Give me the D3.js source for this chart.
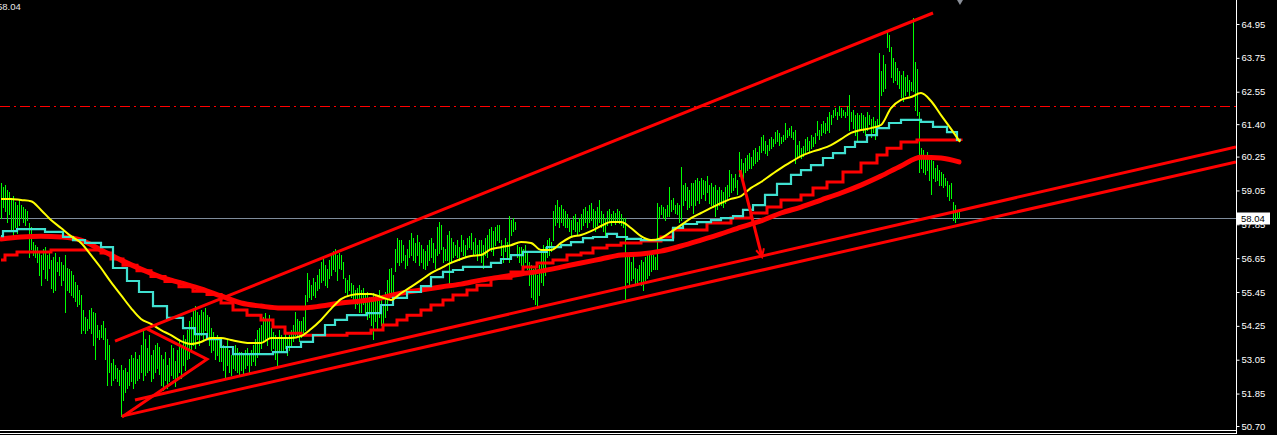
<!DOCTYPE html>
<html><head><meta charset="utf-8">
<script src="https://cdn.jsdelivr.net/npm/d3@7"></script>
<style>html,body{margin:0;padding:0;background:#000;overflow:hidden}</style>
</head><body>
<svg id="c" width="1277" height="435"></svg>
<script>
// ---------- DATA ----------
const tickLabels = ["64.95","63.75","62.55","61.40","60.25","59.05","57.85","56.65","55.45","54.25","53.05","51.85","50.70"];
const barHigh = [
59.31,59.14,59.24,59.06,58.99,58.78,58.85,58.64,58.53,58.71,
58.53,58.46,58.36,58.29,57.89,57.72,57.22,57.11,57.01,56.87,
56.76,56.94,57.01,56.73,56.87,56.58,56.66,56.83,56.51,56.66,
56.51,56.40,56.76,56.30,56.23,56.16,56.05,55.80,55.69,55.52,
55.34,54.81,54.53,54.46,54.81,54.88,54.74,54.70,54.28,54.10,
54.28,54.39,54.17,53.75,53.57,52.93,53.04,52.86,52.75,52.68,
52.86,52.68,52.75,52.61,53.04,53.21,53.11,53.32,53.04,53.21,
53.57,54.10,53.75,53.46,53.92,53.21,53.39,53.57,53.64,53.50,
53.21,53.04,53.32,52.86,53.11,53.57,53.46,52.97,53.39,53.75,
53.46,53.92,53.75,54.10,54.39,54.53,54.81,54.92,54.74,54.63,
54.81,54.74,54.88,54.63,54.53,54.17,54.03,53.82,53.92,53.75,
53.68,53.57,53.46,53.75,53.39,53.21,53.32,53.57,53.46,53.32,
53.32,53.21,53.39,53.46,53.28,53.39,53.57,53.75,54.10,54.17,
54.28,54.53,54.70,54.39,54.63,54.17,54.03,53.92,53.82,54.10,
53.92,53.82,54.03,53.75,53.92,54.10,54.28,54.74,54.46,54.39,
54.39,54.53,55.34,56.12,55.87,55.69,55.94,55.80,56.05,56.23,
56.51,56.66,56.40,56.23,56.58,56.76,56.87,56.94,56.76,56.83,
56.76,56.51,55.94,55.87,56.05,55.76,55.69,55.52,55.59,55.69,
55.52,55.59,55.34,55.45,55.24,55.17,55.41,55.34,55.17,55.52,
55.17,54.99,55.45,55.87,56.23,56.30,56.05,56.94,57.36,57.29,
57.29,57.11,56.76,56.94,57.29,57.54,57.36,57.18,57.47,57.22,
57.11,56.94,56.87,57.11,57.29,57.36,57.18,56.94,57.72,57.93,
57.82,57.01,56.94,57.47,57.58,57.36,57.22,57.11,57.29,57.01,
57.47,57.29,57.11,57.36,57.43,57.54,57.22,57.36,57.11,57.29,
57.29,57.11,57.36,57.47,57.65,57.72,57.58,57.72,57.82,57.79,
57.29,57.11,57.36,57.22,58.11,58.00,58.07,57.93,57.11,57.01,
57.01,56.94,57.11,56.87,56.51,56.40,56.23,56.30,56.05,56.40,
56.94,57.11,57.01,57.29,57.36,57.22,58.29,58.53,58.71,58.43,
58.53,58.36,58.29,58.18,58.07,58.00,58.11,58.18,57.93,58.07,
58.18,58.36,58.43,58.29,58.53,58.60,58.36,58.29,58.43,58.71,
58.29,58.18,58.07,58.29,58.36,58.18,58.29,58.22,58.36,58.29,
58.18,58.07,58.07,56.76,56.66,56.51,56.76,56.30,56.23,56.40,
56.58,56.51,56.66,56.76,56.73,56.83,56.76,56.66,58.60,58.46,
58.53,58.43,58.36,58.50,59.17,58.71,58.78,58.53,58.60,58.53,
59.88,59.24,59.31,59.14,59.06,59.28,59.31,59.42,59.49,59.35,
59.49,59.42,59.35,59.53,59.24,59.31,59.14,59.24,59.06,59.17,
59.06,58.99,59.14,59.24,59.77,59.60,59.49,59.63,59.42,60.41,
60.13,60.02,60.20,60.30,60.37,60.23,60.48,60.55,60.41,60.62,
60.94,61.01,60.77,60.66,60.84,60.91,60.84,61.12,61.19,61.08,
60.94,61.01,61.44,61.19,61.26,61.30,61.12,61.19,60.66,60.77,
60.55,60.62,60.84,60.91,60.77,61.01,60.91,61.08,61.48,61.19,
61.37,61.48,61.41,61.62,61.83,61.72,61.90,61.97,61.83,62.01,
61.97,61.90,61.83,62.01,62.43,61.83,61.90,61.72,61.79,61.69,
61.76,61.69,61.62,61.83,61.72,61.55,61.62,61.48,61.55,63.92,
63.25,63.85,63.50,64.67,64.56,64.10,63.74,63.60,63.39,63.25,
63.14,63.25,63.04,63.14,62.96,62.89,65.13,63.60,63.32,61.83,
60.55,60.48,60.30,60.41,60.20,60.13,60.06,59.84,59.95,59.77,
59.70,59.60,59.49,59.35,59.24,59.31,58.64,58.53,58.29,58.36];
const barLow = [
58.07,58.46,58.29,57.93,58.18,57.65,57.40,57.72,57.51,57.82,
58.07,57.93,57.82,58.00,56.69,56.94,56.76,56.66,56.51,56.05,
55.69,56.23,55.94,55.87,56.30,55.59,55.45,55.52,56.16,56.05,
55.69,55.87,54.74,55.52,55.45,55.34,55.24,55.10,54.92,54.99,
53.99,54.10,53.99,54.07,54.17,53.99,53.57,53.04,53.82,53.75,
53.82,53.75,53.04,52.15,52.61,52.15,52.33,52.40,52.26,52.15,
51.02,51.62,51.90,52.04,52.15,52.26,52.04,52.22,52.33,52.40,
52.61,52.33,52.50,52.61,52.68,52.26,52.40,52.61,52.75,52.54,
52.15,51.97,52.33,52.04,52.26,52.50,52.40,52.11,52.33,52.61,
52.40,52.86,52.68,53.04,53.11,53.32,53.57,53.46,53.75,53.57,
53.92,53.75,54.10,53.82,53.57,53.32,53.39,53.04,53.21,52.97,
52.97,52.68,52.40,52.86,52.61,52.50,52.75,52.68,52.61,52.47,
52.68,52.57,52.75,52.86,52.61,52.86,52.97,52.86,53.14,53.32,
53.46,53.68,53.75,53.57,53.82,53.39,53.46,53.04,52.86,53.39,
53.32,53.39,53.46,53.21,53.39,53.57,53.68,53.92,53.82,53.68,
53.82,54.03,54.10,55.10,55.24,55.17,55.34,55.27,55.52,55.59,
55.80,55.87,55.69,55.62,55.94,56.05,56.23,56.16,55.87,56.30,
56.23,55.94,55.45,55.34,55.52,55.24,55.06,54.88,54.99,54.74,
54.74,54.99,54.63,54.46,54.53,54.28,53.75,54.39,54.17,54.53,
54.28,54.10,54.53,54.81,55.17,55.45,55.24,56.16,56.51,56.40,
56.51,56.58,56.30,56.40,56.66,56.76,56.58,56.51,56.73,56.40,
56.51,56.30,56.23,56.40,56.58,56.66,56.51,56.30,56.76,56.83,
56.94,56.51,56.58,56.58,55.76,56.51,56.66,56.73,56.66,56.58,
56.87,56.76,56.66,56.94,57.01,56.94,56.73,56.80,56.58,56.76,
56.51,56.30,56.76,56.66,56.94,56.87,56.76,57.11,57.29,57.22,
56.73,56.51,56.87,56.66,56.51,57.47,57.58,57.65,56.66,56.51,
56.40,56.30,56.51,56.23,55.69,55.24,55.17,54.99,54.92,55.34,
55.80,55.69,56.05,56.66,56.76,56.87,57.29,57.82,57.93,57.72,
57.93,57.82,57.72,57.72,57.58,57.47,57.65,57.58,57.47,57.58,
57.65,57.82,57.93,57.72,57.93,58.00,57.72,57.58,57.82,57.93,
57.72,57.58,57.47,57.82,57.93,57.82,57.93,57.86,58.00,57.89,
57.82,57.72,55.10,55.80,55.69,55.87,55.94,55.76,55.69,55.87,
55.69,55.52,55.87,55.94,56.05,56.16,56.23,56.23,56.23,58.07,
58.18,58.07,58.00,58.14,58.11,58.29,58.36,58.25,58.18,57.93,
58.00,58.53,58.71,58.36,58.43,58.53,58.25,58.53,58.71,58.60,
58.78,58.89,58.71,58.96,58.60,58.53,58.46,58.11,58.36,58.53,
58.53,58.43,58.60,58.71,58.82,58.99,59.06,59.14,58.89,59.53,
59.60,59.49,59.70,59.77,59.84,59.84,59.95,60.02,60.06,60.13,
60.41,60.48,60.37,60.30,60.48,60.55,60.59,60.73,60.77,60.66,
60.73,60.77,60.84,60.91,61.01,60.94,60.84,60.02,60.20,60.30,
60.20,60.27,60.41,60.48,60.41,60.55,60.62,60.73,61.01,60.84,
61.01,61.12,61.08,61.19,61.12,61.37,61.62,61.69,61.55,61.72,
61.62,61.69,61.62,61.72,61.19,61.48,61.26,61.01,60.77,61.19,
61.26,61.12,61.01,61.19,61.37,60.91,61.12,60.84,61.26,61.30,
62.43,62.54,62.68,64.10,63.96,63.04,62.89,62.96,62.79,62.68,
62.33,62.19,62.43,62.54,62.43,62.61,62.54,61.90,61.72,59.70,
59.84,59.70,59.60,59.77,59.42,58.89,59.49,59.35,59.42,59.24,
59.24,59.14,59.21,58.85,58.71,58.78,58.00,57.93,58.07,58.07];
// fast MA, one value every 5 bars
const yellowMA = [58.75,58.75,58.71,58.67,58.36,58.00,57.72,57.43,57.19,56.76,
56.30,55.80,55.34,54.88,54.49,54.32,54.10,53.92,53.71,53.61,
53.68,53.82,53.82,53.75,53.68,53.64,53.64,53.82,53.82,53.82,
53.89,54.14,54.46,54.85,55.20,55.34,55.38,55.38,55.27,55.17,
55.41,55.63,55.87,56.12,56.30,56.48,56.62,56.73,56.76,56.97,
57.04,57.11,57.22,57.19,56.94,56.94,57.19,57.40,57.47,57.61,
57.79,57.93,57.93,57.72,57.43,57.29,57.36,57.58,57.82,58.07,
58.25,58.43,58.60,58.75,58.85,59.14,59.35,59.60,59.84,60.06,
60.27,60.41,60.52,60.66,60.87,61.09,61.19,61.26,61.37,61.97,
62.26,62.36,62.50,62.22,61.72,61.23,60.77];
// slow smoothed MA, one value every 10 bars
const slowRedMA = [57.33,57.40,57.43,57.40,57.29,56.94,56.58,56.26,55.98,55.77,
55.56,55.31,55.06,54.95,54.88,54.88,54.95,55.06,55.13,55.24,
55.41,55.52,55.63,55.73,55.87,55.98,56.09,56.19,56.33,56.48,
56.62,56.76,56.80,56.90,57.08,57.29,57.51,57.75,57.97,58.25,
58.46,58.71,58.96,59.24,59.56,59.92,60.23,60.20,60.06];
// higher-timeframe MAs (step lines): bar where each step starts, and its value
const cyanStepBar = [0,1,8,22,31,36,42,50,56,63,69,76,83,91,97,103,110,116,136,143,150,156,162,167,173,183,190,196,203,210,215,221,226,231,245,250,255,261,273,280,285,291,296,303,308,313,320,336,341,348,355,360,366,371,376,382,388,395,400,405,411,416,422,427,433,438,444,450,460,466,473,478,480];
const cyanStepVal = [57.43,57.61,57.68,57.58,57.40,57.29,57.19,57.04,56.30,55.84,55.45,54.95,54.53,54.17,53.96,53.78,53.50,53.25,53.32,53.50,53.68,53.92,54.28,54.46,54.63,54.70,54.99,55.24,55.45,55.66,55.98,56.16,56.23,56.34,56.48,56.62,56.76,56.87,57.04,57.11,57.22,57.36,57.40,57.51,57.40,57.33,57.29,57.72,57.86,57.93,58.00,58.07,58.14,58.36,58.53,58.89,59.28,59.60,59.77,59.95,60.20,60.37,60.59,60.77,61.01,61.26,61.44,61.55,61.48,61.30,61.12,60.84,60.84];
const redStepBar = [0,2,8,25,50,55,61,68,75,82,89,96,103,110,116,123,130,136,142,150,173,185,191,198,203,210,215,221,226,233,238,245,255,261,268,276,283,290,296,303,310,320,330,336,353,365,375,383,390,400,406,413,421,430,438,443,450,458,480];
const redStepVal = [56.58,56.76,56.87,56.94,56.83,56.62,56.40,56.20,56.00,55.82,55.64,55.48,55.36,55.06,54.81,54.63,54.46,54.21,53.99,53.92,53.99,54.10,54.28,54.46,54.63,54.81,54.99,55.17,55.34,55.52,55.69,55.94,56.16,56.34,56.48,56.58,56.76,56.83,57.01,57.11,57.19,57.26,57.40,57.65,57.90,58.07,58.25,58.46,58.71,58.89,59.14,59.35,59.70,60.02,60.31,60.55,60.77,60.84,60.80];
// hand-drawn objects, anchored in (bar, price)
const channelTop   = [[57, 53.71], [466, 65.34]];
const channelLowA  = [[67, 51.62], [617.5, 60.59]];
const channelLowB  = [[60.5, 51.05], [617.5, 60.06]];
const zigzag       = [[73, 54.14], [103, 53.07], [60.5, 51.02]];
const arrowSeg     = [[369.5, 59.77], [380.5, 56.69]];
const levelPrice = 62.04;
const lastPrice = 58.04;
const cornerText = "58.04";

// ---------- CHART ----------
const W = 1277, H = 435, axisX = 1236, plotBottom = 429;
const svg = d3.select("#c");
svg.append("rect").attr("width", W).attr("height", H).attr("fill", "#000");

const x = d3.scaleLinear().domain([0, 479]).range([1, 959]);
const y = d3.scaleLinear().domain([50.70, 64.95]).range([426, 24]);

const defs = svg.append("defs");
defs.append("clipPath").attr("id", "plot")
  .append("rect").attr("x", 0).attr("y", 0).attr("width", axisX).attr("height", plotBottom);
defs.append("marker").attr("id", "ah")
  .attr("markerUnits", "userSpaceOnUse").attr("viewBox", "-10 -6 12 12")
  .attr("markerWidth", 12).attr("markerHeight", 12).attr("orient", "auto").attr("refX", 0).attr("refY", 0)
  .append("path").attr("d", "M-8,-4L0,0L-8,4").attr("fill", "none").attr("stroke", "#ff0000").attr("stroke-width", 2);

const g = svg.append("g").attr("clip-path", "url(#plot)");

// dash-dot level
g.append("line").attr("x1", 0).attr("x2", axisX)
  .attr("y1", Math.round(y(levelPrice)) + 0.5).attr("y2", Math.round(y(levelPrice)) + 0.5)
  .attr("stroke", "#ff0000").attr("stroke-width", 1).attr("stroke-dasharray", "10,4,2,4");

// last price line
g.append("line").attr("x1", 0).attr("x2", axisX)
  .attr("y1", Math.round(y(lastPrice)) - 0.5).attr("y2", Math.round(y(lastPrice)) - 0.5)
  .attr("stroke", "#7f8c9c").attr("stroke-width", 1);

// bars (high-low)
const barG = g.append("g").attr("class", "bars");
barG.selectAll("rect").data(barHigh).join("rect")
  .attr("x", (d, i) => Math.round(x(i)))
  .attr("width", 1)
  .attr("y", d => Math.floor(y(d)))
  .attr("height", (d, i) => Math.max(1, Math.ceil(y(barLow[i])) - Math.floor(y(d))))
  .attr("fill", "#00ff00").attr("shape-rendering", "crispEdges");

// moving averages
const lineGen = d3.line().x(d => x(d[0])).y(d => y(d[1]));
const slowPts = slowRedMA.map((v, k) => [Math.min(k * 10, 479), v]);
g.append("path").attr("d", lineGen.curve(d3.curveMonotoneX)(slowPts))
  .attr("fill", "none").attr("stroke", "#ff0000").attr("stroke-width", 5).attr("stroke-linecap", "round");

const redStepPts = redStepBar.map((b, k) => [b, redStepVal[k]]);
g.append("path").attr("d", d3.line().x(d => x(d[0])).y(d => y(d[1])).curve(d3.curveStepAfter)(redStepPts))
  .attr("fill", "none").attr("stroke", "#ff0000").attr("stroke-width", 3);

const cyanPts = cyanStepBar.map((b, k) => [b, cyanStepVal[k]]);
g.append("path").attr("d", d3.line().x(d => x(d[0])).y(d => y(d[1])).curve(d3.curveStepAfter)(cyanPts))
  .attr("fill", "none").attr("stroke", "#40e0d0").attr("stroke-width", 2.2);

const yPts = yellowMA.map((v, k) => [Math.min(k * 5, 479.5), v]);
g.append("path").attr("d", d3.line().x(d => x(d[0])).y(d => y(d[1])).curve(d3.curveMonotoneX)(yPts))
  .attr("fill", "none").attr("stroke", "#ffff00").attr("stroke-width", 2);

// trend objects
const straight = d3.line().x(d => x(d[0])).y(d => y(d[1]));
[channelTop, channelLowA, channelLowB].forEach(seg => {
  g.append("path").attr("d", straight(seg)).attr("fill", "none")
    .attr("stroke", "#ff0000").attr("stroke-width", 3);
});
g.append("path").attr("d", straight(zigzag)).attr("fill", "none")
  .attr("stroke", "#ff0000").attr("stroke-width", 3).attr("stroke-linejoin", "miter");
g.append("path").attr("d", straight(arrowSeg)).attr("fill", "none")
  .attr("stroke", "#ff0000").attr("stroke-width", 3).attr("marker-end", "url(#ah)");

// small grey marker at the top after the last bar
svg.append("path")
  .attr("d", d3.symbol(d3.symbolDiamond, 30)())
  .attr("transform", `translate(${x(479.5)},0)`)
  .attr("fill", "#8a8f98");

// bottom frame lines
[430.5, 433.5].forEach(yy => svg.append("line").attr("x1", 0).attr("x2", axisX + 1)
  .attr("y1", yy).attr("y2", yy).attr("stroke", "#ffffff").attr("stroke-width", 1));

// right price axis
const axis = d3.axisRight(y)
  .tickValues(tickLabels.map(Number))
  .tickFormat((d, i) => tickLabels[i])
  .tickSizeInner(3).tickSizeOuter(0).tickPadding(2);
const ag = svg.append("g").attr("transform", `translate(${axisX + 0.5},0)`).call(axis);
ag.select(".domain").remove();
ag.selectAll(".tick line").attr("stroke", "#ffffff");
ag.selectAll(".tick text").attr("fill", "#ffffff")
  .style("font-family", "'Liberation Sans', Arial, sans-serif").style("font-size", "9.5px");
svg.append("line").attr("x1", axisX + 0.5).attr("x2", axisX + 0.5).attr("y1", 0).attr("y2", 434)
  .attr("stroke", "#ffffff").attr("stroke-width", 1);

// last price tag
const ly = y(lastPrice);
svg.append("rect").attr("x", axisX + 1).attr("y", Math.round(ly) - 6.5).attr("width", 33).attr("height", 12)
  .attr("fill", "#ffffff");
svg.append("text").attr("x", axisX + 5).attr("y", ly).attr("dy", "0.34em")
  .attr("fill", "#000000").style("font-family", "'Liberation Sans', Arial, sans-serif").style("font-size", "9.5px")
  .text(lastPrice.toFixed(2));

// corner label (partly cut by the left edge, as in the source)
svg.append("text").attr("x", -3).attr("y", 10).attr("fill", "#e6e6e6")
  .style("font-family", "'Liberation Sans', Arial, sans-serif").style("font-size", "9.5px")
  .text(cornerText);
</script>
</body></html>
